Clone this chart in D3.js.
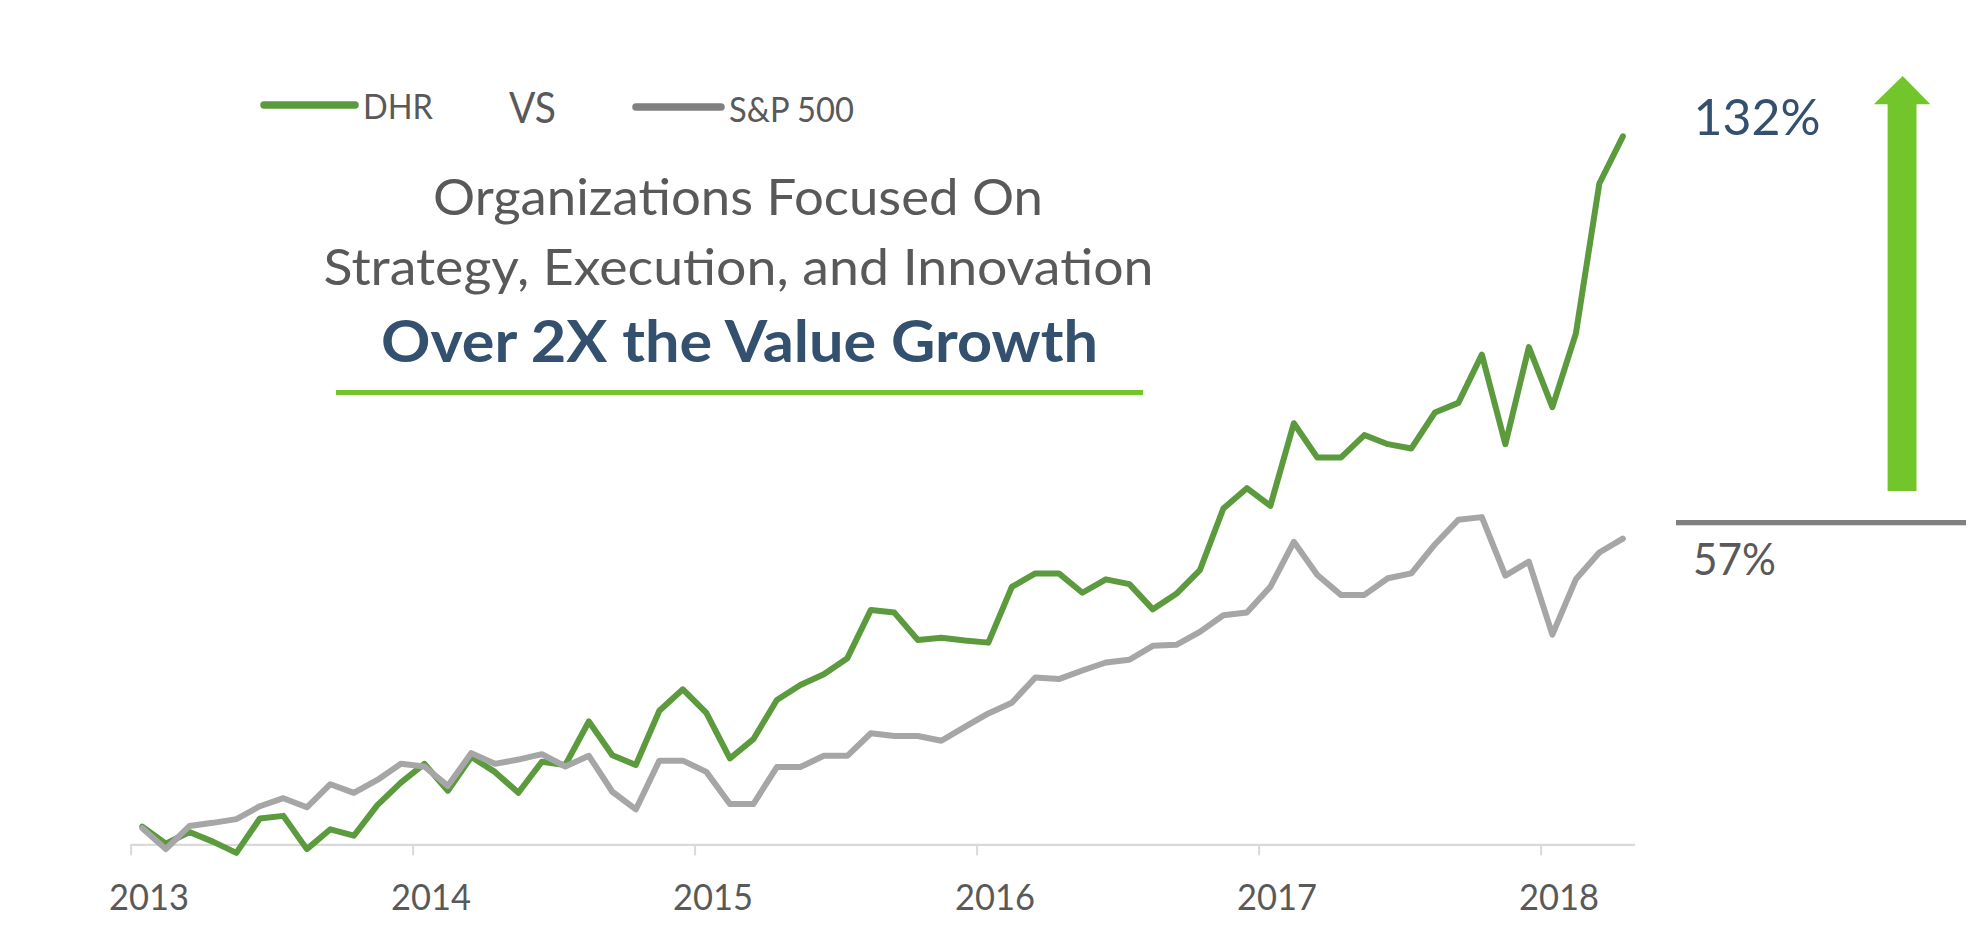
<!DOCTYPE html>
<html>
<head>
<meta charset="utf-8">
<script src="https://cdn.jsdelivr.net/npm/d3@7"></script>
<style>
html,body{margin:0;padding:0;background:#fff;}
svg{display:block;font-family:Lato,"Open Sans",sans-serif;}
</style>
</head>
<body>
<svg id="chart" width="1970" height="946"></svg>
<script>
// ---------- DATA ----------
const months = [
  "2013-01","2013-02","2013-03","2013-04","2013-05","2013-06","2013-07","2013-08","2013-09","2013-10","2013-11","2013-12",
  "2014-01","2014-02","2014-03","2014-04","2014-05","2014-06","2014-07","2014-08","2014-09","2014-10","2014-11","2014-12",
  "2015-01","2015-02","2015-03","2015-04","2015-05","2015-06","2015-07","2015-08","2015-09","2015-10","2015-11","2015-12",
  "2016-01","2016-02","2016-03","2016-04","2016-05","2016-06","2016-07","2016-08","2016-09","2016-10","2016-11","2016-12",
  "2017-01","2017-02","2017-03","2017-04","2017-05","2017-06","2017-07","2017-08","2017-09","2017-10","2017-11","2017-12",
  "2018-01","2018-02","2018-03","2018-04"
];
// cumulative growth, %
const dhr = [
  3.3, 0.1, 2.3, 0.5, -1.6, 4.8, 5.3, -0.9, 2.8, 1.6, 7.3, 11.5,
  15.0, 10.0, 16.3, 13.5, 9.6, 15.4, 14.8, 22.9, 16.6, 14.8, 24.9, 28.9,
  24.5, 16.0, 19.6, 26.9, 29.7, 31.7, 34.7, 43.7, 43.2, 38.1, 38.5, 38.0,
  37.6, 48.0, 50.5, 50.5, 46.9, 49.4, 48.5, 43.8, 46.7, 51.1, 62.6, 66.4,
  63.1, 78.5, 72.1, 72.1, 76.3, 74.6, 73.8, 80.5, 82.3, 91.3, 74.6, 92.7,
  81.5, 95.2, 123.2, 132.0
];
const sp500 = [
  3.0, -0.9, 3.4, 4.0, 4.7, 7.1, 8.6, 6.9, 11.2, 9.6, 12.0, 15.0,
  14.5, 10.9, 17.0, 15.0, 15.8, 16.8, 14.5, 16.5, 9.8, 6.5, 15.6, 15.6,
  13.5, 7.5, 7.5, 14.4, 14.4, 16.5, 16.5, 20.7, 20.2, 20.2, 19.3, 21.9,
  24.4, 26.4, 31.1, 30.8, 32.4, 33.9, 34.4, 37.0, 37.2, 39.6, 42.7, 43.2,
  48.0, 56.4, 50.2, 46.5, 46.5, 49.6, 50.5, 55.9, 60.5, 61.0, 50.1, 52.7,
  39.1, 49.4, 54.4, 57.0
];
const yearLabels = ["2013","2014","2015","2016","2017","2018"];
const seriesNames = ["DHR","S&P 500"];
const vsLabel = "VS";
const titleLines = ["Organizations Focused On","Strategy, Execution, and Innovation"];
const headline = "Over 2X the Value Growth";

// ---------- STYLE ----------
const C = {
  dhr:"#5B9A3D", sp:"#A6A6A6", spLegend:"#808080", text:"#595959",
  navy:"#34506F", bright:"#72C52A", axis:"#D9D9D9"
};

const svg = d3.select("#chart");

// ---------- SCALES ----------
const x = d3.scaleLinear().domain([0, months.length]).range([130.6, 1634.6]);
const y = d3.scaleLinear().domain([0, 132]).range([844.3, 136.3]);
const px = i => x(i + 0.5);

// ---------- AXIS ----------
const yearIdx = yearLabels.map(yl => months.indexOf(yl + "-01"));
const axis = d3.axisBottom(x)
  .tickValues(yearIdx)
  .tickFormat((d,i) => yearLabels[i])
  .tickSizeInner(11).tickSizeOuter(0);
const gAxis = svg.append("g").attr("transform", `translate(0,${y(0)})`).call(axis);
gAxis.select(".domain").attr("stroke", C.axis).attr("stroke-width", 2.2);
gAxis.selectAll(".tick line").attr("stroke", C.axis).attr("stroke-width", 2);
gAxis.selectAll(".tick text")
  .attr("y", 66).attr("dy", 0).attr("dx", 18)
  .attr("fill", C.text).attr("font-size", 37)
  .attr("font-family", "Lato, 'Open Sans', sans-serif")
  .attr("textLength", 80).attr("lengthAdjust", "spacingAndGlyphs");

// ---------- LINES ----------
const line = d3.line().x((d,i) => px(i)).y(d => y(d));
svg.append("path").datum(dhr).attr("d", line)
  .attr("fill","none").attr("stroke", C.dhr).attr("stroke-width", 6)
  .attr("stroke-linejoin","round").attr("stroke-linecap","round");
svg.append("path").datum(sp500).attr("d", line)
  .attr("fill","none").attr("stroke", C.sp).attr("stroke-width", 6)
  .attr("stroke-linejoin","round").attr("stroke-linecap","round");

// ---------- LEGEND ----------
svg.append("line").attr("x1",264).attr("x2",355).attr("y1",105).attr("y2",105)
  .attr("stroke", C.dhr).attr("stroke-width",7.5).attr("stroke-linecap","round");
svg.append("text").attr("x",363).attr("y",119).text(seriesNames[0])
  .attr("fill",C.text).attr("font-size",35)
  .attr("textLength",70).attr("lengthAdjust","spacingAndGlyphs");
svg.append("text").attr("x",509).attr("y",123).text(vsLabel)
  .attr("fill",C.text).attr("font-size",43)
  .attr("textLength",47).attr("lengthAdjust","spacingAndGlyphs");
svg.append("line").attr("x1",636).attr("x2",721).attr("y1",107).attr("y2",107)
  .attr("stroke", C.spLegend).attr("stroke-width",7.5).attr("stroke-linecap","round");
svg.append("text").attr("x",729).attr("y",122).text(seriesNames[1])
  .attr("fill",C.text).attr("font-size",35)
  .attr("textLength",125).attr("lengthAdjust","spacingAndGlyphs");

// ---------- TITLE ----------
svg.append("text").attr("x",433).attr("y",215).text(titleLines[0])
  .attr("fill",C.text).attr("font-size",51)
  .attr("textLength",610).attr("lengthAdjust","spacingAndGlyphs");
svg.append("text").attr("x",323.5).attr("y",285).text(titleLines[1])
  .attr("fill",C.text).attr("font-size",51)
  .attr("textLength",830).attr("lengthAdjust","spacingAndGlyphs");
svg.append("text").attr("x",381).attr("y",362).text(headline)
  .attr("fill",C.navy).attr("font-size",58).attr("font-weight","bold")
  .attr("textLength",717).attr("lengthAdjust","spacingAndGlyphs");
svg.append("rect").attr("x",336).attr("y",390).attr("width",807).attr("height",5)
  .attr("fill", C.bright);

// ---------- RIGHT ANNOTATION ----------
const pct = d3.format(".0f");
svg.append("path")
  .attr("d","M1887.6,491 L1887.6,104.3 L1873.8,104.3 L1902.7,76 L1930.3,104.3 L1916.5,104.3 L1916.5,491 Z")
  .attr("fill", C.bright);
svg.append("rect").attr("x",1676).attr("y",520).attr("width",290).attr("height",5.3)
  .attr("fill", C.spLegend);
svg.append("text").attr("x",1693.5).attr("y",135).text(pct(dhr[dhr.length-1]) + "%")
  .attr("fill",C.navy).attr("font-size",51)
  .attr("textLength",127).attr("lengthAdjust","spacingAndGlyphs");
svg.append("text").attr("x",1693).attr("y",575).text(pct(sp500[sp500.length-1]) + "%")
  .attr("fill",C.text).attr("font-size",45)
  .attr("textLength",83).attr("lengthAdjust","spacingAndGlyphs");
</script>
</body>
</html>
